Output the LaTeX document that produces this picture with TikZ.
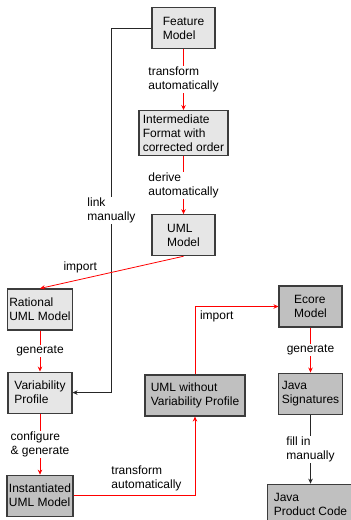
\documentclass[tikz,border=0pt]{standalone}
\usepackage{fontspec}
\setmainfont{Liberation Sans}
\usetikzlibrary{positioning,arrows.meta}
\definecolor{lightbox}{HTML}{E6E6E6}
\definecolor{darkbox}{HTML}{C0C0C0}
\definecolor{boxline}{HTML}{3C3C3C}
\begin{document}
\begin{tikzpicture}
[x=1pt,y=-1pt,font=\fontsize{12}{14}\selectfont,
 lbox/.style={draw=boxline,line width=1.1pt,fill=lightbox,align=left,
   minimum width=63pt,minimum height=41pt,inner sep=2pt},
 dbox/.style={lbox,fill=darkbox},
 redarr/.style={red,line width=0.8pt,-{Stealth[length=5pt,width=4.5pt]}},
 blkarr/.style={black!85,line width=0.8pt,-{Stealth[length=5pt,width=4.5pt]}},
 lbl/.style={fill=white,text=black,align=left,inner sep=1pt},
 tag/.style={text=black,align=left}]
\clip (0,0) rectangle (351,520);
\fill[white] (0,0) rectangle (351,520);
\node[lbox](fm) at (183.5,28){Feature\\Model};
\node[lbox,minimum width=89pt,minimum height=45pt, below=61pt of fm](int){Intermediate\\Format with\\corrected order};
\node[lbox, below=58pt of int](uml){UML\\Model};
\node[lbox,minimum width=64pt](rum) at (40,309.5){Rational\\UML Model};
\node[lbox,minimum width=64pt, below=41pt of rum](vp){Variability\\Profile};
\node[dbox, below=61pt of vp](ium){Instantiated\\UML Model};
\node[dbox,minimum width=100pt](uwv) at (195,395.5){UML without\\Variability Profile};
\node[dbox](eco) at (310.5,306.5){Ecore\\Model};
\node[dbox,minimum width=64pt, below=45pt of eco](js){Java\\Signatures};
\node[dbox,minimum width=86pt,minimum height=40pt, below=69pt of js](jpc){Java\\Product Code};
\coordinate[left=40pt of fm.west](lm);
\draw[redarr] (fm) -- node[lbl]{transform\\automatically} (int);
\draw[redarr] (int) -- node[lbl]{derive\\automatically} (uml);
\draw[blkarr] (fm.west) -- (lm) |- node[pos=0.25,lbl]{link\\manually} (vp.east);
\draw[redarr] (uml.south) -- node[pos=0.72,above=3pt,tag]{import} (rum.north);
\draw[redarr] (rum) -- node[lbl]{generate} (vp);
\draw[redarr] (vp) -- node[lbl]{configure\\\& generate} (ium);
\draw[redarr] (ium.east) -| node[pos=0.3,above=1pt,tag]{transform\\automatically} (uwv.south);
\draw[redarr] (uwv.north) |- node[pos=0.63,below=1pt,tag]{import} (eco.west);
\draw[redarr] (eco) -- node[lbl]{generate} (js);
\draw[blkarr] (js) -- node[lbl]{fill in\\manually} (jpc);
\end{tikzpicture}
\end{document}
